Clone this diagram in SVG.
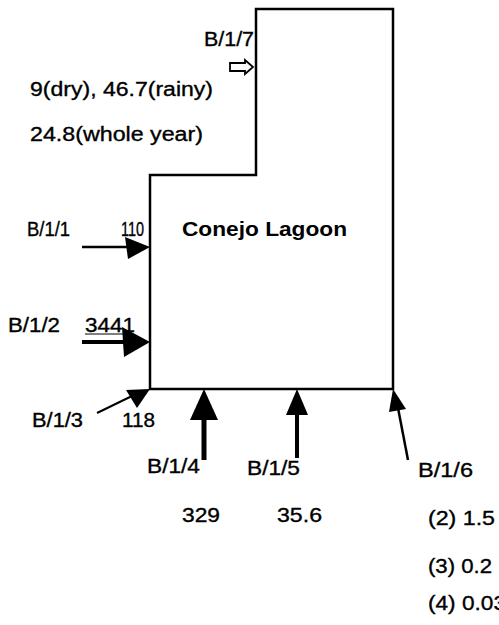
<svg xmlns="http://www.w3.org/2000/svg" width="499" height="625" viewBox="0 0 499 625">
<style>
text{font-family:"Liberation Sans",Arial,sans-serif;font-size:20px;fill:#000;stroke:#000;stroke-width:0.35}
.b{font-weight:bold;stroke-width:0}
.ln{stroke:#000;fill:none}
.hd{fill:#000;stroke:none}
</style>
<rect width="499" height="625" fill="#fff"/>
<g id="lagoon">
<path class="ln" stroke-width="2.5" d="M256,9 H393 V389 H150 V175 H256 Z"/>
<text class="b" x="182" y="236" textLength="165" lengthAdjust="spacingAndGlyphs">Conejo Lagoon</text>
</g>
<g id="connectors">
<g id="b11">
<line class="ln" stroke-width="2.5" x1="82" y1="247" x2="130" y2="247"/>
<polygon class="hd" points="150,247 125,237 128,259"/>
</g>
<g id="b12">
<line class="ln" stroke-width="4" x1="82" y1="342" x2="128" y2="342"/>
<polygon class="hd" points="150,342 122,327 124,357"/>
</g>
<g id="b13">
<line class="ln" stroke-width="2" x1="97" y1="413" x2="132" y2="396"/>
<polygon class="hd" points="150,389 126,390 137,408"/>
</g>
<g id="b14">
<line class="ln" stroke-width="5" x1="204" y1="415" x2="204" y2="460"/>
<polygon class="hd" points="204,389 190,420 218,420"/>
</g>
<g id="b15">
<line class="ln" stroke-width="4" x1="297" y1="410" x2="297" y2="458"/>
<polygon class="hd" points="297,389 286,415 308,415"/>
</g>
<g id="b16">
<line class="ln" stroke-width="2.5" x1="408" y1="460" x2="398" y2="408"/>
<polygon class="hd" points="393,389 389,412 406,409"/>
</g>
<g id="b17">
<path class="ln" stroke-width="1.8" d="M230,63 H245 V60 L253,67 L245,74 V71 H230 Z"/>
</g>
</g>
<g id="labels">
<text x="204" y="46" textLength="50" lengthAdjust="spacingAndGlyphs">B/1/7</text>
<text x="30" y="96" textLength="183" lengthAdjust="spacingAndGlyphs">9(dry), 46.7(rainy)</text>
<text x="30" y="141" textLength="173" lengthAdjust="spacingAndGlyphs">24.8(whole year)</text>
<text x="27" y="236" textLength="43" lengthAdjust="spacingAndGlyphs">B/1/1</text>
<text x="121" y="236" textLength="23" lengthAdjust="spacingAndGlyphs">110</text>
<text x="8" y="332" textLength="52" lengthAdjust="spacingAndGlyphs">B/1/2</text>
<text x="85" y="332" textLength="50" lengthAdjust="spacingAndGlyphs">3441</text>
<line class="ln" stroke-width="1" x1="85" y1="334" x2="124" y2="334"/>
<text x="32" y="427" textLength="51" lengthAdjust="spacingAndGlyphs">B/1/3</text>
<text x="122" y="427" textLength="33" lengthAdjust="spacingAndGlyphs">118</text>
<text x="147" y="473" textLength="53" lengthAdjust="spacingAndGlyphs">B/1/4</text>
<text x="182" y="522" textLength="38" lengthAdjust="spacingAndGlyphs">329</text>
<text x="247" y="475" textLength="53" lengthAdjust="spacingAndGlyphs">B/1/5</text>
<text x="277" y="522" textLength="45" lengthAdjust="spacingAndGlyphs">35.6</text>
<text x="418" y="477" textLength="55" lengthAdjust="spacingAndGlyphs">B/1/6</text>
<text x="428" y="525" textLength="67" lengthAdjust="spacingAndGlyphs">(2) 1.5</text>
<text x="428" y="573" textLength="64" lengthAdjust="spacingAndGlyphs">(3) 0.2</text>
<text x="428" y="610" textLength="78" lengthAdjust="spacingAndGlyphs">(4) 0.03</text>
</g>
</svg>
